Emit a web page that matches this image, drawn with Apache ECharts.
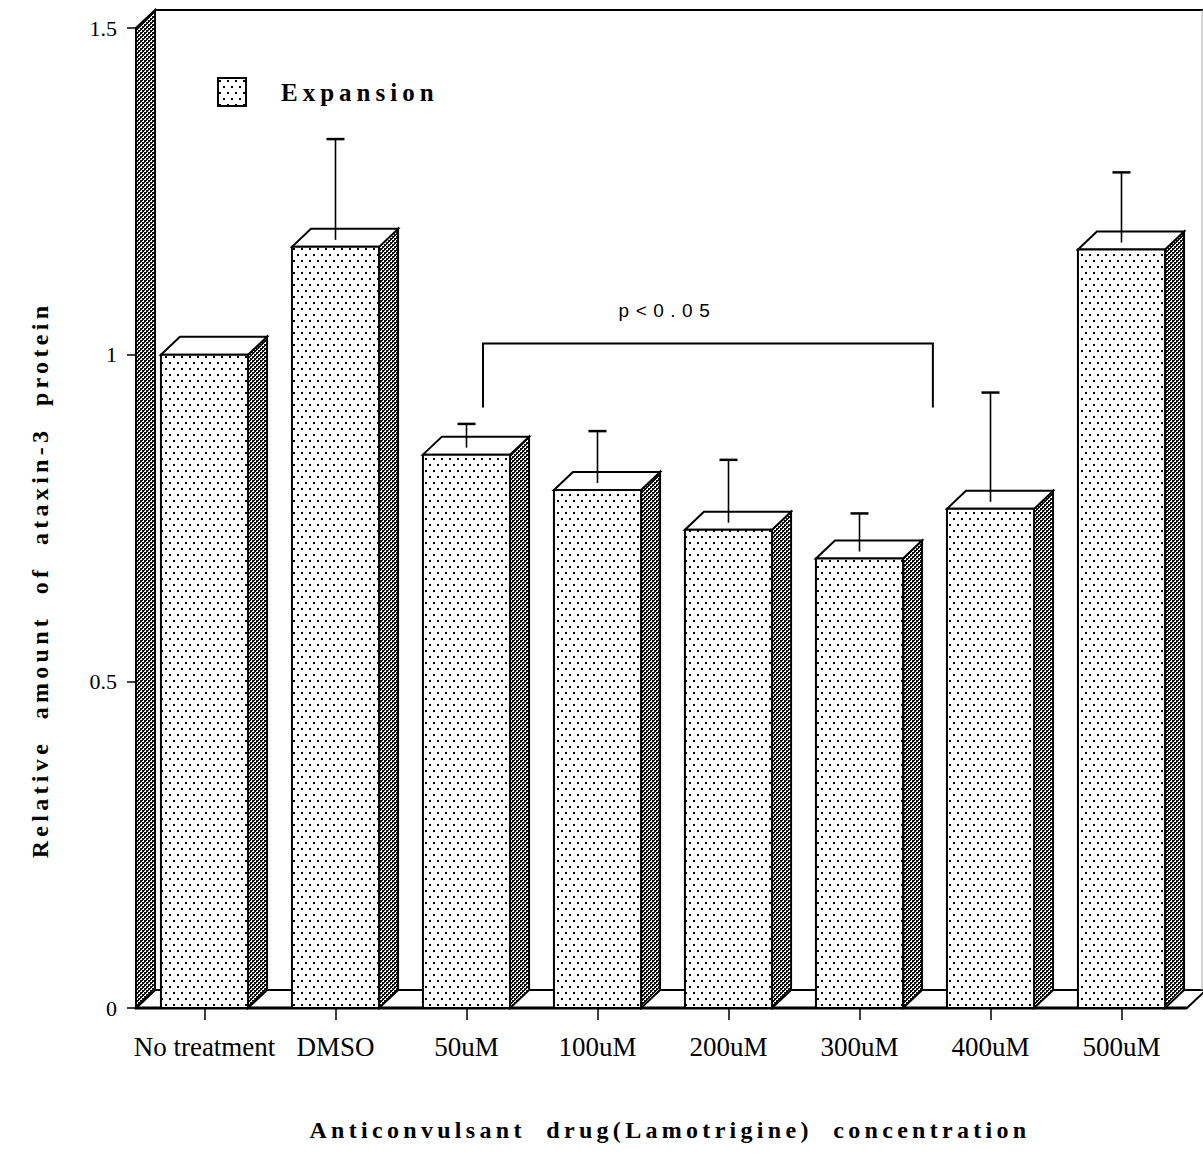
<!DOCTYPE html>
<html><head><meta charset="utf-8">
<script src="https://cdn.jsdelivr.net/npm/echarts@6/dist/echarts.min.js"></script>
<style>
html,body{margin:0;padding:0;background:#fff}
#c{width:1203px;height:1161px}
#c text[style*="19px"]{letter-spacing:6.5px}
#c text[style*="24px"]{letter-spacing:4.3px}
#c text[style*="25px"]{letter-spacing:5px}
</style></head><body><div id="c"></div>
<script>
// ---- data ----
const categories = ['No treatment', 'DMSO', '50uM', '100uM', '200uM', '300uM', '400uM', '500uM'];
const expansion  = [1.000, 1.165, 0.847, 0.793, 0.732, 0.688, 0.764, 1.161];
const errors     = [0,     0.165, 0.047, 0.090, 0.107, 0.069, 0.178, 0.118];
const yTicks     = [0, 0.5, 1, 1.5];
const bracketCats   = [2, 5];         // 50uM .. 300uM
const bracketLevels = [1.017, 0.919]; // bracket top, bracket leg ends
const bracketLabel  = 'p<0.05';
const seriesName = 'Expansion';
const yName = 'Relative  amount  of  ataxin-3  protein';
const xName = 'Anticonvulsant  drug(Lamotrigine)  concentration';

// ---- styles ----
const SERIF = '"Liberation Serif", "Times New Roman", serif';
const SANS = '"Liberation Sans", Arial, sans-serif';
const DX = 19, DY = -18;

function dotCanvas() {
  const c = document.createElement('canvas'); c.width = 8; c.height = 12;
  const g = c.getContext('2d');
  g.fillStyle = '#fff'; g.fillRect(0, 0, 8, 12);
  g.fillStyle = '#000'; g.fillRect(1, 2, 2, 2); g.fillRect(5, 8, 2, 2);
  return c;
}
function checkCanvas() {
  const c = document.createElement('canvas'); c.width = 4; c.height = 4;
  const g = c.getContext('2d');
  g.fillStyle = '#fff'; g.fillRect(0, 0, 4, 4);
  g.fillStyle = '#111'; g.fillRect(0, 0, 2, 2); g.fillRect(2, 2, 2, 2);
  g.fillRect(2, 0, 1, 1); g.fillRect(0, 2, 1, 1);
  return c;
}
const dotPat = { image: dotCanvas(), repeat: 'repeat', imageWidth: 8, imageHeight: 12 };
const checkPat = { image: checkCanvas(), repeat: 'repeat', imageWidth: 4, imageHeight: 4 };

function renderFrame(params, api) {
  const band = api.size([1, 0])[0];
  const c0 = api.coord([0, 0]);
  const cl = api.coord([categories.length - 1, 0]);
  const ct = api.coord([0, yTicks[yTicks.length - 1]]);
  const L = c0[0] - band / 2 - 3, R = cl[0] + band / 2, y0 = c0[1], yT = ct[1];
  return { type: 'group', children: [
    { type: 'polygon', shape: { points: [[L, y0], [L + DX, y0 + DY], [R + DX, y0 + DY], [R, y0]] },
      style: { fill: '#fff', stroke: '#000', lineWidth: 2 } },
    { type: 'line', shape: { x1: L, y1: y0, x2: R, y2: y0 }, style: { stroke: '#000', lineWidth: 3 } },
    { type: 'polygon', shape: { points: [[L, yT], [L + DX, yT + DY], [L + DX, y0 + DY], [L, y0]] },
      style: { fill: checkPat, stroke: '#000', lineWidth: 2 } },
    { type: 'line', shape: { x1: L + DX, y1: yT + DY, x2: R + DX, y2: yT + DY }, style: { stroke: '#000', lineWidth: 2 } },
    { type: 'line', shape: { x1: R + DX - 4, y1: yT + DY, x2: R + DX - 4, y2: y0 + DY }, style: { stroke: '#aaa', lineWidth: 1 } }
  ]};
}

function renderBar(params, api) {
  const i = api.value(0), v = api.value(1), e = api.value(2);
  const band = api.size([1, 0])[0];
  const w = band * 0.665;
  const base = api.coord([i, 0]);
  const top = api.coord([i, v]);
  const x0 = base[0] - w / 2, x1 = base[0] + w / 2, y0 = base[1], y1 = top[1];
  const children = [
    { type: 'polygon', shape: { points: [[x1, y1], [x1 + DX, y1 + DY], [x1 + DX, y0 + DY], [x1, y0]] },
      style: { fill: checkPat, stroke: '#000', lineWidth: 2 } },
    { type: 'polygon', shape: { points: [[x0, y1], [x0 + DX, y1 + DY], [x1 + DX, y1 + DY], [x1, y1]] },
      style: { fill: '#fff', stroke: '#000', lineWidth: 2 } },
    { type: 'rect', shape: { x: x0, y: y1, width: w, height: y0 - y1 },
      style: { fill: dotPat, stroke: '#000', lineWidth: 2 } }
  ];
  if (e > 0) {
    const t = api.coord([i, v + e]);
    children.push(
      { type: 'line', shape: { x1: base[0], y1: y1 - 7, x2: base[0], y2: t[1] }, style: { stroke: '#000', lineWidth: 1.6 } },
      { type: 'line', shape: { x1: base[0] - 9, y1: t[1], x2: base[0] + 9, y2: t[1] }, style: { stroke: '#000', lineWidth: 2.5 } }
    );
  }
  return { type: 'group', children };
}

function renderBracket(params, api) {
  const band = api.size([1, 0])[0];
  const a = api.coord([api.value(0), api.value(2)]);
  const b = api.coord([api.value(1), api.value(3)]);
  const xl = a[0] + band * 0.126, xr = b[0] + band * 0.56, yt = a[1], yb = b[1];
  return { type: 'group', children: [
    { type: 'polyline', shape: { points: [[xl, yb], [xl, yt], [xr, yt], [xr, yb]] },
      style: { stroke: '#000', lineWidth: 2, fill: 'none' } },
    { type: 'text', style: { text: bracketLabel, x: xl + (xr - xl) * 0.41, y: yt - 33, fill: '#000',
      fontSize: 19, fontFamily: SANS, align: 'center', verticalAlign: 'middle' } }
  ]};
}

const chart = echarts.init(document.getElementById('c'), null, { renderer: 'svg' });
chart.setOption({
  backgroundColor: '#fff',
  animation: false,
  grid: { left: 139, right: 16, top: 28, bottom: 153 },
  legend: {
    data: [seriesName], left: 217, top: 77, padding: 0, itemWidth: 28, itemHeight: 28, icon: 'rect',
    selectedMode: false,
    itemStyle: { borderColor: '#000', borderWidth: 2 },
    textStyle: { fontFamily: SERIF, fontWeight: 'bold', fontSize: 25, color: '#000', padding: [0, 0, 0, 30] }
  },
  xAxis: {
    type: 'category', data: categories, offset: 9,
    axisLine: { show: false },
    axisTick: { show: true, alignWithLabel: true, length: 12, lineStyle: { color: '#000', width: 1.5 } },
    axisLabel: { interval: 0, margin: 16, fontSize: 27, fontFamily: SERIF, color: '#000' },
    name: xName, nameLocation: 'middle', nameGap: 101,
    nameTextStyle: { fontFamily: SERIF, fontWeight: 'bold', fontSize: 24, color: '#000', padding: [0, 0, 0, 14] }
  },
  yAxis: {
    type: 'value', min: yTicks[0], max: yTicks[yTicks.length - 1], interval: yTicks[1] - yTicks[0],
    axisLine: { show: false },
    axisTick: { show: true, length: 12, lineStyle: { color: '#000', width: 1.5 } },
    axisLabel: { margin: 22, fontSize: 22, fontFamily: SERIF, color: '#000' },
    splitLine: { show: false }
  },
  graphic: [{
    type: 'text', x: 40, y: 580, rotation: Math.PI / 2,
    style: { text: yName, fontFamily: SERIF, fontWeight: 'bold', fontSize: 24, fill: '#000',
      align: 'center', verticalAlign: 'middle' }
  }],
  series: [
    { type: 'custom', name: 'frame', z: 1, silent: true, renderItem: renderFrame, data: [[0, 0]] },
    { type: 'custom', name: seriesName, z: 2, renderItem: renderBar,
      itemStyle: { color: dotPat, borderColor: '#000', borderWidth: 2 },
      encode: { x: 0, y: 1 },
      data: categories.map((c, i) => [i, expansion[i], errors[i]]) },
    { type: 'custom', name: 'significance', z: 3, silent: true, renderItem: renderBracket,
      data: [[bracketCats[0], bracketCats[1], bracketLevels[0], bracketLevels[1]]] }
  ]
});
</script></body></html>
